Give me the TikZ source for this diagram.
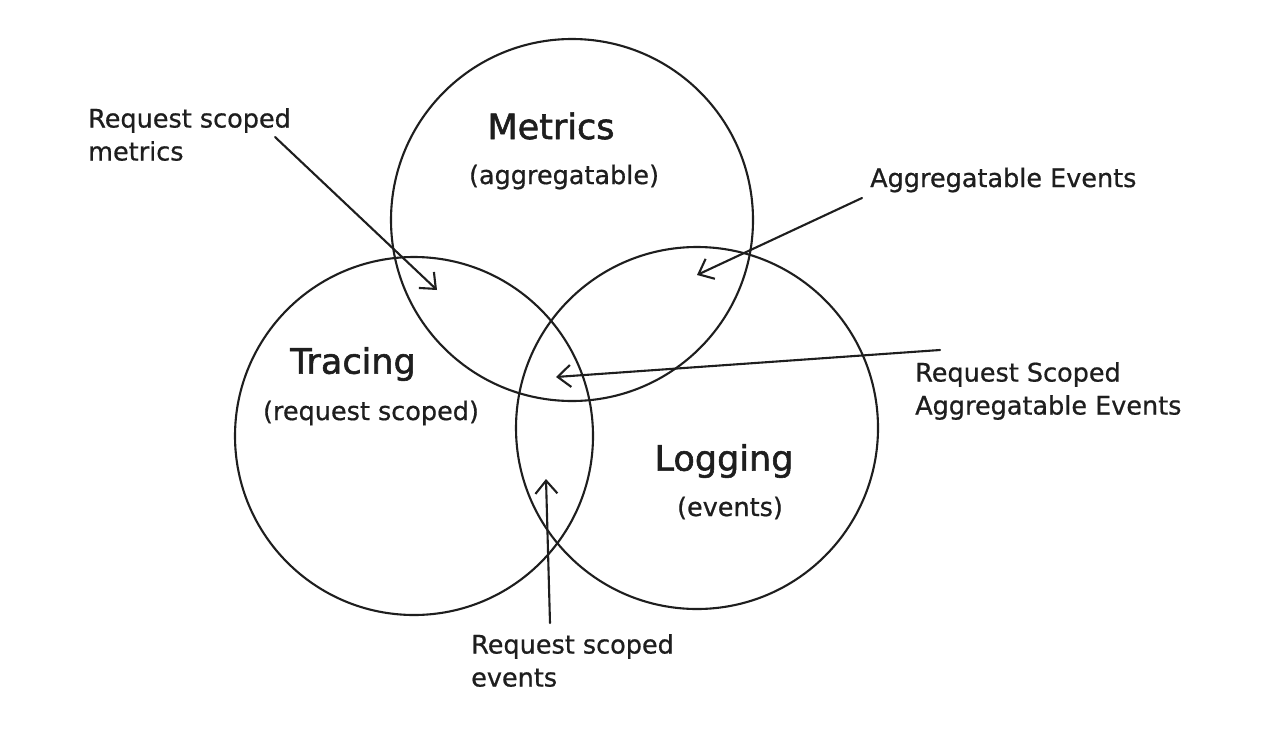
\documentclass[tikz,border=0pt]{standalone}
\usepackage{fontspec}
\setmainfont{DejaVu Sans}
\newfontfamily\titlefont[FakeBold=1.6]{DejaVu Sans}
\newfontfamily\labelfont[FakeBold=0.7]{DejaVu Sans}
\usetikzlibrary{arrows.meta}
\definecolor{ink}{HTML}{1E1E1E}
\begin{document}
\begin{tikzpicture}[x=1pt,y=-1pt,
  ring/.style={draw=ink, line width=2.1pt, circle, inner sep=0pt},
  title/.style={font=\titlefont\fontsize{35}{40}\selectfont, text=ink},
  sub/.style={font=\labelfont\fontsize{25.5}{30}\selectfont, text=ink},
  lbl/.style={font=\labelfont\fontsize{25.5}{33}\selectfont, text=ink, align=left, anchor=west, inner sep=0pt},
  pointer/.style={draw=ink, line width=2.1pt, line cap=round, -{Straight Barb[length=13pt,width=22pt,line width=2.1pt]}}
]
\useasboundingbox (0,0) rectangle (1274,744);
\fill[white] (0,0) rectangle (1274,744);

% circles
\node[ring, minimum size=362pt] (metrics) at (572,220) {};
\node[ring, minimum size=358pt] (tracing) at (414,436) {};
\node[ring, minimum size=362pt] (logging) at (697,428) {};

% titles
\node[title] (metricsT) at (551,126) {Metrics};
\node[sub] (metricsS) at (564,177) {(aggregatable)};
\node[title] (tracingT) at (353,364) {Tracing};
\node[sub] (tracingS) at (371,413) {(request scoped)};
\node[title] (loggingT) at (724,461) {Logging};
\node[sub] (loggingS) at (730,508) {(events)};

% labels
\node[lbl] (l1) at (88,134.5) {Request scoped\\metrics};
\node[lbl] (l2) at (870,180) {Aggregatable Events};
\node[lbl] (l3) at (915,391) {Request Scoped\\Aggregatable Events};
\node[lbl] (l4) at (471,660.5) {Request scoped\\events};

% arrow endpoints
\coordinate (s1) at (275,137);  \coordinate (t1) at (437,290);
\coordinate (s2) at (862,198);  \coordinate (t2) at (697,275);
\coordinate (s3) at (940,350);  \coordinate (t3) at (556,377);
\coordinate (s4) at (550,623);  \coordinate (t4) at (546,479);

\draw[pointer] (s1) -- (t1);
\draw[pointer] (s2) -- (t2);
\draw[pointer] (s3) -- (t3);
\draw[pointer] (s4) -- (t4);
\end{tikzpicture}
\end{document}
